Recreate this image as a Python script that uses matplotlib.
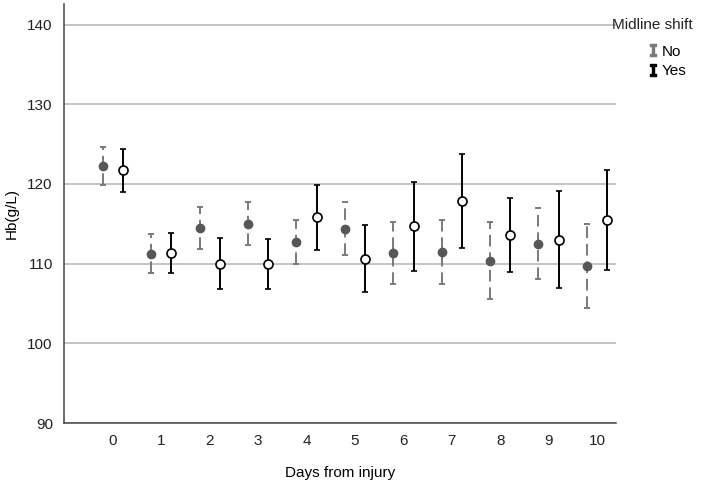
import numpy as np
import matplotlib.pyplot as plt
from matplotlib.lines import Line2D

plt.rcParams['font.family'] = ['Liberation Sans', 'DejaVu Sans']

days = np.arange(11)

# Midline shift = No
no_mean = [122.3, 111.2, 114.5, 115.0, 112.7, 114.4, 111.3, 111.4, 110.35, 112.5, 109.7]
no_low = [119.9, 108.8, 111.9, 112.3, 109.9, 111.1, 107.4, 107.4, 105.6, 108.1, 104.4]
no_high = [124.6, 113.7, 117.05, 117.7, 115.5, 117.7, 115.2, 115.5, 115.2, 117.0, 115.0]

# Midline shift = Yes
yes_mean = [121.7, 111.3, 110.0, 109.9, 115.8, 110.6, 114.7, 117.85, 113.6, 113.0, 115.5]
yes_low = [119.0, 108.8, 106.8, 106.8, 111.7, 106.4, 109.1, 112.0, 108.9, 106.9, 109.2]
yes_high = [124.4, 113.8, 113.2, 113.1, 119.9, 114.9, 120.3, 123.8, 118.3, 119.1, 121.7]

fig = plt.figure(figsize=(7.14, 4.84), dpi=100)
ax = fig.add_axes([0.0896, 0.126, 0.773, 0.866])

off = 0.21
no_mean = np.array(no_mean)
yes_mean = np.array(yes_mean)
no_err = [no_mean - np.array(no_low), np.array(no_high) - no_mean]
yes_err = [yes_mean - np.array(yes_low), np.array(yes_high) - yes_mean]

eb = ax.errorbar(days - off, no_mean, yerr=no_err, fmt='o', color='#575757',
                 ecolor='#7a7a7a', elinewidth=1.4, capsize=2.5, capthick=1.4,
                 markersize=6, zorder=3)
eb[2][0].set_linestyle((0, (6, 3)))

ax.errorbar(days + off, yes_mean, yerr=yes_err, fmt='o', color='black',
            markerfacecolor='white', markeredgecolor='black', markeredgewidth=1.2,
            ecolor='black', elinewidth=1.4, capsize=2.5, capthick=1.4,
            markersize=6.5, zorder=3)

ax.set_xlim(-1.01, 10.39)
ax.set_ylim(90, 142.6)
ax.set_xticks(days)
ax.set_yticks([90, 100, 110, 120, 130, 140])
ax.tick_params(length=0, labelsize=11, colors='#222222', pad=8)
ax.yaxis.grid(True, color='#b4b4b4', linewidth=1.1)
ax.set_axisbelow(True)
for s in ['top', 'right']:
    ax.spines[s].set_visible(False)
for s in ['left', 'bottom']:
    ax.spines[s].set_color('#444444')
    ax.spines[s].set_linewidth(1.1)

ax.set_xlabel('Days from injury', fontsize=11, labelpad=13)
ax.set_ylabel('Hb(g/L)', fontsize=11, labelpad=6)

fig.text(0.857, 0.940, 'Midline shift', fontsize=11, color='#222222')
handles = [Line2D([], [], ls='none', marker='$\\mathtt{I}$', color='#7a7a7a', markersize=8),
           Line2D([], [], ls='none', marker='$\\mathtt{I}$', color='black', markersize=8)]
leg = fig.legend(handles, ['No', 'Yes'], loc='upper left',
                 bbox_to_anchor=(0.893, 0.93), frameon=False, fontsize=11,
                 handlelength=0.6, handletextpad=0.3, labelspacing=0.35,
                 borderpad=0.2)

fig.savefig('out.png', dpi=100)
